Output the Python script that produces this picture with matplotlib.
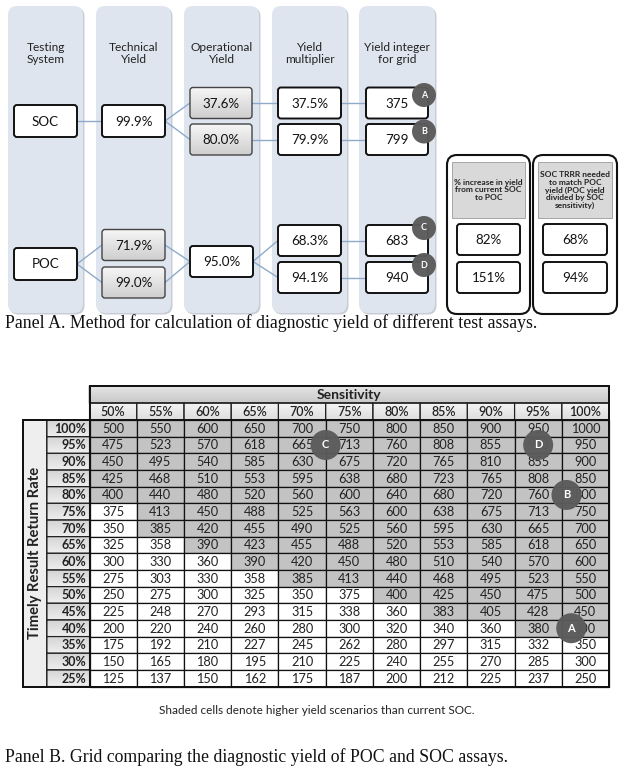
import matplotlib
matplotlib.use("Agg")
import matplotlib.pyplot as plt
from matplotlib.patches import FancyBboxPatch, Rectangle, Circle
import numpy as np

# ---------------- data ----------------
col_headers = ["Testing\nSystem", "Technical\nYield", "Operational\nYield",
               "Yield\nmultiplier", "Yield integer\nfor grid"]
soc_label = "SOC"
soc_technical = "99.9%"
soc_operational = ["37.6%", "80.0%"]
soc_multiplier = ["37.5%", "79.9%"]
soc_integer = ["375", "799"]
soc_markers = ["A", "B"]

poc_label = "POC"
poc_technical = ["71.9%", "99.0%"]
poc_operational = "95.0%"
poc_multiplier = ["68.3%", "94.1%"]
poc_integer = ["683", "940"]
poc_markers = ["C", "D"]

increase_title = "% increase in yield\nfrom current SOC\nto POC"
increase_values = ["82%", "151%"]
trrr_title = "SOC TRRR needed\nto match POC\nyield (POC yield\ndivided by SOC\nsensitivity)"
trrr_values = ["68%", "94%"]

sensitivity = ["50%", "55%", "60%", "65%", "70%", "75%", "80%", "85%", "90%", "95%", "100%"]
return_rate = ["100%", "95%", "90%", "85%", "80%", "75%", "70%", "65%", "60%", "55%",
               "50%", "45%", "40%", "35%", "30%", "25%"]
grid = [
    [500, 550, 600, 650, 700, 750, 800, 850, 900, 950, 1000],
    [475, 523, 570, 618, 665, 713, 760, 808, 855, 903, 950],
    [450, 495, 540, 585, 630, 675, 720, 765, 810, 855, 900],
    [425, 468, 510, 553, 595, 638, 680, 723, 765, 808, 850],
    [400, 440, 480, 520, 560, 600, 640, 680, 720, 760, 800],
    [375, 413, 450, 488, 525, 563, 600, 638, 675, 713, 750],
    [350, 385, 420, 455, 490, 525, 560, 595, 630, 665, 700],
    [325, 358, 390, 423, 455, 488, 520, 553, 585, 618, 650],
    [300, 330, 360, 390, 420, 450, 480, 510, 540, 570, 600],
    [275, 303, 330, 358, 385, 413, 440, 468, 495, 523, 550],
    [250, 275, 300, 325, 350, 375, 400, 425, 450, 475, 500],
    [225, 248, 270, 293, 315, 338, 360, 383, 405, 428, 450],
    [200, 220, 240, 260, 280, 300, 320, 340, 360, 380, 400],
    [175, 192, 210, 227, 245, 262, 280, 297, 315, 332, 350],
    [150, 165, 180, 195, 210, 225, 240, 255, 270, 285, 300],
    [125, 137, 150, 162, 175, 187, 200, 212, 225, 237, 250],
]
soc_current_yield = 375
# grid markers: (label, column position, row position)
grid_markers = [("C", 4.5, 1), ("D", 9.0, 1), ("B", 9.6, 4), ("A", 9.7, 12)]

caption_a = "Panel A. Method for calculation of diagnostic yield of different test assays."
caption_b = "Panel B. Grid comparing the diagnostic yield of POC and SOC assays."
footnote = "Shaded cells denote higher yield scenarios than current SOC."

# ---------------- figure ----------------
W, H = 625, 768
fig = plt.figure(figsize=(W / 100, H / 100), dpi=100)
ax = fig.add_axes([0, 0, 1, 1])
ax.set_xlim(0, W)
ax.set_ylim(H, 0)
ax.axis("off")

SANS = ["Lato", "DejaVu Sans"]
SERIF = ["Liberation Serif", "DejaVu Serif"]
COLBG = "#dfe5ee"
LINE = "#8eaacb"
MARK = "#5b5b5b"


def gradient_box(x0, y0, x1, y1, c_top, c_bot, rad=3, ec="#333333", lw=1.0, z=3):
    patch = FancyBboxPatch((x0, y0), x1 - x0, y1 - y0,
                           boxstyle=f"round,pad=0,rounding_size={rad}",
                           fc="none", ec=ec, lw=lw, zorder=z + 0.1)
    ax.add_patch(patch)
    clip = FancyBboxPatch((x0, y0), x1 - x0, y1 - y0,
                          boxstyle=f"round,pad=0,rounding_size={rad}",
                          fc="none", ec="none", transform=ax.transData)
    ax.add_patch(clip)
    c1 = np.array(matplotlib.colors.to_rgb(c_top))
    c2 = np.array(matplotlib.colors.to_rgb(c_bot))
    t = np.linspace(0, 1, 32)[:, None]
    img = (c1 * (1 - t) + c2 * t)[:, None, :]
    im = ax.imshow(img, extent=(x0, x1, y1, y0), aspect="auto", zorder=z,
                   interpolation="bilinear")
    im.set_clip_path(clip)


def white_box(x0, y0, x1, y1, text, fs=9.6, z=3):
    ax.add_patch(FancyBboxPatch((x0, y0), x1 - x0, y1 - y0,
                                boxstyle="round,pad=0,rounding_size=3",
                                fc="white", ec="#111111", lw=1.4, zorder=z))
    ax.text((x0 + x1) / 2, (y0 + y1) / 2 + 0.5, text, ha="center", va="center",
            fontsize=fs, family=SANS, color="#111111", zorder=z + 1)


def grey_box(x0, y0, x1, y1, text, fs=9.6):
    gradient_box(x0, y0, x1, y1, "#f6f6f6", "#cfcfcf", ec="#444444", lw=1.0)
    ax.text((x0 + x1) / 2, (y0 + y1) / 2 + 0.5, text, ha="center", va="center",
            fontsize=fs, family=SANS, color="#111111", zorder=5)


def marker(cx, cy, label, r=12, fs=6.5):
    ax.add_patch(Circle((cx, cy), r, fc=MARK, ec="none", zorder=8, alpha=0.97))
    ax.text(cx, cy, label, ha="center", va="center", fontsize=fs, color="white",
            fontweight="bold", family=SANS, zorder=9)


def link(x0, y0, x1, y1):
    ax.plot([x0, x1], [y0, y1], color=LINE, lw=1.0, zorder=2)


# ---------------- Panel A ----------------
col_x = [(8, 83), (96, 171), (184, 259), (272, 347), (359, 435)]
for (x0, x1), hdr in zip(col_x, col_headers):
    ax.add_patch(FancyBboxPatch((x0 + 1.5, 7.5), x1 - x0, 307,
                                boxstyle="round,pad=0,rounding_size=9",
                                fc="#c9ccd2", ec="none", zorder=0.5))
    ax.add_patch(FancyBboxPatch((x0, 6), x1 - x0, 307,
                                boxstyle="round,pad=0,rounding_size=9",
                                fc=COLBG, ec="none", zorder=1))
    ax.text((x0 + x1) / 2, 53.5, hdr, ha="center", va="center", fontsize=8.6,
            family=SANS, color="#222222", linespacing=1.1, zorder=2)

# SOC branch
soc_y = 121
rows_soc = [103, 139.5]
link(77, soc_y, 102, soc_y)
for yy in rows_soc:
    link(165, soc_y, 190, yy)
    link(252, yy, 278, yy)
    link(341, yy, 366, yy)
white_box(14, 105, 77, 137, soc_label)
white_box(102, 105, 165, 137, soc_technical)
for yy, op, mu, it, mk in zip(rows_soc, soc_operational, soc_multiplier,
                              soc_integer, soc_markers):
    grey_box(190, yy - 15.5, 252, yy + 15.5, op)
    white_box(278, yy - 15.5, 341, yy + 15.5, mu)
    white_box(366, yy - 15.5, 428, yy + 15.5, it)
    marker(424, yy - 8, mk)

# POC branch
poc_y = 264
tech_rows = [245, 282.5]
mult_rows = [240.5, 277.5]
for yy in tech_rows:
    link(77, poc_y, 102, yy)
    link(165, yy, 190, 261.5)
for yy in mult_rows:
    link(253, 261.5, 278, yy)
    link(341, yy, 366, yy)
white_box(14, 248, 77, 280, poc_label)
for yy, tv in zip(tech_rows, poc_technical):
    grey_box(102, yy - 15.5, 165, yy + 15.5, tv)
white_box(190, 246, 253, 277, poc_operational)
for yy, mu, it, mk in zip(mult_rows, poc_multiplier, poc_integer, poc_markers):
    white_box(278, yy - 15.5, 341, yy + 15.5, mu)
    white_box(366, yy - 15.5, 428, yy + 15.5, it)
    marker(424, yy - 12.5, mk)

# right-hand summary boxes
for (x0, x1), title, vals in [((447, 530), increase_title, increase_values),
                              ((533, 617), trrr_title, trrr_values)]:
    ax.add_patch(FancyBboxPatch((x0, 155), x1 - x0, 159,
                                boxstyle="round,pad=0,rounding_size=10",
                                fc="white", ec="#111111", lw=1.5, zorder=2))
    ax.add_patch(Rectangle((x0 + 5, 162), x1 - x0 - 10, 56, fc="#d9d9d9",
                           ec="#9a9a9a", lw=0.6, zorder=3))
    ax.text((x0 + x1) / 2, 190, title, ha="center", va="center", fontsize=6.0,
            fontweight="bold", family=SANS, color="#222222", linespacing=1.1,
            zorder=4)
    for yy, v in zip([239.5, 277.5], vals):
        white_box(x0 + 10, yy - 15.5, x1 - 10, yy + 15.5, v)

ax.text(5, 323, caption_a, ha="left", va="center", fontsize=12.8, family=SERIF,
        color="#111111")

# ---------------- Panel B ----------------
gx0 = 89.5
cw = (609 - gx0) / len(sensitivity)
gy0 = 420
rh = (686.5 - gy0) / len(return_rate)
lab_x0, lab_x1 = 47, gx0
vert_x0 = 23


def cell_center(ci, ri):
    return gx0 + (ci + 0.5) * cw, gy0 + (ri + 0.5) * rh


# Sensitivity header
gradient_box(gx0, 386, gx0 + cw * len(sensitivity), 403, "#e4e4e4", "#c8c8c8",
             rad=0.01, ec="#111111", lw=1.0, z=2)
ax.text(gx0 + cw * len(sensitivity) / 2, 395, "Sensitivity", ha="center",
        va="center", fontsize=10, fontweight="bold", family=SANS, color="#222222",
        zorder=5)
# Sensitivity labels
for ci, s in enumerate(sensitivity):
    x0 = gx0 + ci * cw
    gradient_box(x0, 403, x0 + cw, gy0, "#f4f4f4", "#dddddd", rad=0.01,
                 ec="#222222", lw=0.8, z=2)
    ax.text(x0 + cw / 2, 412, s, ha="center", va="center", fontsize=9,
            fontweight="semibold", family=SANS, color="#222222", zorder=5)

# vertical label column
ax.add_patch(Rectangle((vert_x0, gy0), lab_x0 - vert_x0, rh * len(return_rate),
                       fc="#eeeeee", ec="#111111", lw=1.2, zorder=2))
ax.text((vert_x0 + lab_x0) / 2, gy0 + rh * len(return_rate) / 2,
        "Timely Result Return Rate", rotation=90, ha="center", va="center",
        fontsize=10.6, fontweight="bold", family=SANS, color="#222222", zorder=5)

# row labels + cells
for ri, rr in enumerate(return_rate):
    y0 = gy0 + ri * rh
    gradient_box(lab_x0, y0, lab_x1, y0 + rh, "#d4d4d4", "#eeeeee", rad=0.01,
                 ec="#222222", lw=0.8, z=2)
    ax.text(lab_x1 - 3, y0 + rh / 2 + 0.5, rr, ha="right", va="center",
            fontsize=9, fontweight="bold", family=SANS, color="#222222", zorder=5)
    for ci, v in enumerate(grid[ri]):
        x0 = gx0 + ci * cw
        fc = "#c3c3c3" if v > soc_current_yield else "white"
        ax.add_patch(Rectangle((x0, y0), cw, rh, fc=fc, ec="#111111", lw=0.9,
                               zorder=2))
        cx, cy = cell_center(ci, ri)
        ax.text(cx, cy + 0.5, str(v), ha="center", va="center", fontsize=9.2,
                family=SANS, color="#222222", zorder=5)

# outer border
ax.add_patch(Rectangle((gx0, 386), cw * len(sensitivity), gy0 + rh * len(return_rate) - 386,
                       fc="none", ec="#111111", lw=1.4, zorder=6))
ax.add_patch(Rectangle((vert_x0, gy0), gx0 + cw * len(sensitivity) - vert_x0,
                       rh * len(return_rate), fc="none", ec="#111111", lw=1.4, zorder=6))

for lab, cpos, rpos in grid_markers:
    cx, cy = cell_center(cpos, rpos)
    marker(cx, cy, lab, r=15, fs=8)

ax.text(317, 711, footnote, ha="center", va="center", fontsize=8.5, family=SANS,
        color="#222222")
ax.text(5, 757, caption_b, ha="left", va="center", fontsize=12.8, family=SERIF,
        color="#111111")

fig.savefig("out.png", dpi=100)
